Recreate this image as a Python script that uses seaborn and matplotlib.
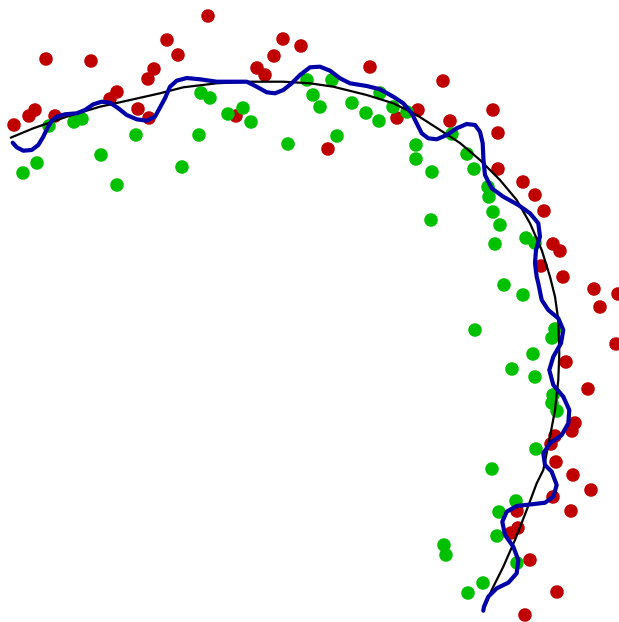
import numpy as np
import pandas as pd
import matplotlib
matplotlib.use("Agg")
import matplotlib.pyplot as plt
import seaborn as sns

# Class 0 (red) sample positions
red_x = [208, 46, 91, 167, 178, 154, 148, 14, 29, 35, 55, 117, 110, 138, 149, 236,
         257, 265, 274, 283, 301, 370, 443, 418, 397, 328, 450, 493, 498, 498, 523,
         535, 544, 553, 560, 541, 563, 594, 600, 618, 616, 566, 588, 575, 572, 555,
         551, 556, 573, 591, 553, 571, 517, 518, 511, 530, 557, 525]
red_y = [16, 59, 61, 40, 55, 69, 79, 125, 116, 110, 116, 92, 99, 109, 118, 116,
         68, 75, 56, 39, 46, 67, 81, 110, 118, 149, 121, 110, 133, 169, 182,
         195, 211, 244, 251, 266, 277, 289, 307, 294, 344, 362, 389, 423, 431, 436,
         444, 462, 475, 490, 497, 511, 511, 528, 533, 560, 592, 615]

# Class 1 (green) sample positions
green_x = [49, 23, 37, 74, 82, 101, 117, 136, 182, 199, 201, 210, 228, 243, 251, 288,
           307, 313, 320, 332, 352, 366, 379, 380, 393, 407, 337, 416, 416, 432, 431,
           452, 467, 474, 488, 489, 493, 500, 495, 526, 535, 504, 523, 475, 555, 552,
           533, 512, 535, 553, 552, 557, 536, 492, 516, 499, 497, 444, 446, 517, 483, 468]
green_y = [126, 173, 163, 122, 119, 155, 185, 135, 167, 135, 93, 98, 114, 108, 122, 144,
           80, 95, 107, 80, 103, 113, 121, 93, 107, 112, 136, 145, 159, 172, 220,
           134, 154, 169, 187, 197, 212, 225, 244, 238, 243, 285, 295, 330, 329, 338,
           354, 369, 377, 395, 403, 411, 449, 469, 501, 512, 536, 545, 555, 563, 583, 593]

# Smooth decision boundary
smooth_x = [10.7, 33.3, 66.7, 100, 133.3, 160, 183.3, 216.7, 250, 283.3, 310, 333.3,
            366.7, 393.3, 416.7, 440, 460, 480, 500, 516.7, 530, 541.7, 550, 555,
            558.3, 559.3, 558.3, 555, 550, 543.3, 536.7, 526.7, 515, 503.3, 491.7, 483.3]
smooth_y = [137.7, 128.3, 116.7, 106.7, 99.3, 93.3, 87.3, 83.3, 81.7, 81.7, 83.3, 86.7,
            95, 103.3, 115, 130, 143, 160, 180, 200, 223.3, 250, 276.7, 296.7,
            320, 353.3, 380, 410, 436.7, 470, 483.3, 510, 540, 566.7, 590, 610]

# Overfitted decision boundary
wiggly_x = [12.7, 16.7, 23.3, 31.7, 38.3, 43.3, 47.3, 51.7, 56.7, 65, 76.7, 85, 93.3,
            101.7, 110, 118.3, 126.7, 136.7, 146.7, 155, 165, 170, 176.7, 186.7, 200,
            216.7, 233.3, 246.7, 256.7, 266.7, 275, 283.3, 291.7, 300, 310, 320, 330,
            340, 350, 366.7, 380, 393.3, 403.3, 411.7, 416.7, 421.7, 428.3, 436.7,
            446.7, 456.7, 466.7, 475, 480, 482.7, 483.3, 483.5, 485, 491.7, 503.3,
            518.3, 530, 538.3, 540, 536, 535, 536.7, 538.3, 541.7, 548.3, 558.3, 563.3,
            561, 553.3, 549.3, 553.3, 563.3, 569.3, 568.3, 561.7, 550, 543.3, 545,
            551.7, 556.7, 553.3, 545, 531.7, 516.7, 506.7, 502.3, 505, 513.3, 518.3,
            516.7, 508.3, 496.7, 488.3, 484, 483.3]
wiggly_y = [142.7, 147.3, 150.7, 150, 145, 136.7, 128.3, 120.7, 116.7, 114.3, 113.3, 110,
            104.3, 101.7, 102.7, 108.3, 115, 119.3, 120.7, 116.7, 98.3, 86.7, 80.7, 78,
            79.3, 81.7, 81.7, 81.7, 86.7, 92.3, 93.3, 90, 83.3, 75, 67.3, 66.7, 70.7,
            78.3, 83.3, 86, 89.3, 96.7, 103.3, 113.3, 123.3, 133.3, 138.3, 139.3,
            135, 128.3, 124, 125, 131.7, 143.3, 156.7, 160, 175, 188.3, 196.7,
            205, 213.3, 223.3, 236.7, 250, 263.3, 276.7, 283.3, 300, 310, 318.3, 330,
            343.3, 356.7, 370, 385, 396.7, 410, 423.3, 435, 443.3, 453.3, 465,
            471.7, 485, 496.7, 502.7, 504.3, 506, 511.7, 521.7, 535, 546.7, 560,
            573.3, 582.7, 588.3, 596.7, 606.7, 610.7]

points = pd.DataFrame({
    "x": red_x + green_x,
    "y": red_y + green_y,
    "cls": ["red"] * len(red_x) + ["green"] * len(green_x),
})

sns.set_style("white")
fig = plt.figure(figsize=(6.19, 6.22), dpi=100)
ax = fig.add_axes([0, 0, 1, 1])

sns.scatterplot(data=points, x="x", y="y", hue="cls",
                palette={"red": "#c00000", "green": "#00c000"},
                s=95, linewidth=0, legend=False, ax=ax, zorder=1)
sns.lineplot(x=smooth_x, y=smooth_y, sort=False, estimator=None,
             color="black", linewidth=1.6, ax=ax, zorder=2,
             solid_joinstyle="round", solid_capstyle="round")
sns.lineplot(x=wiggly_x, y=wiggly_y, sort=False, estimator=None,
             color="#0000a8", linewidth=3.0, ax=ax, zorder=3,
             solid_joinstyle="round", solid_capstyle="round")

ax.set_xlim(0, 619)
ax.set_ylim(622, 0)
ax.axis("off")

fig.savefig("out.png", dpi=100, facecolor="white")
